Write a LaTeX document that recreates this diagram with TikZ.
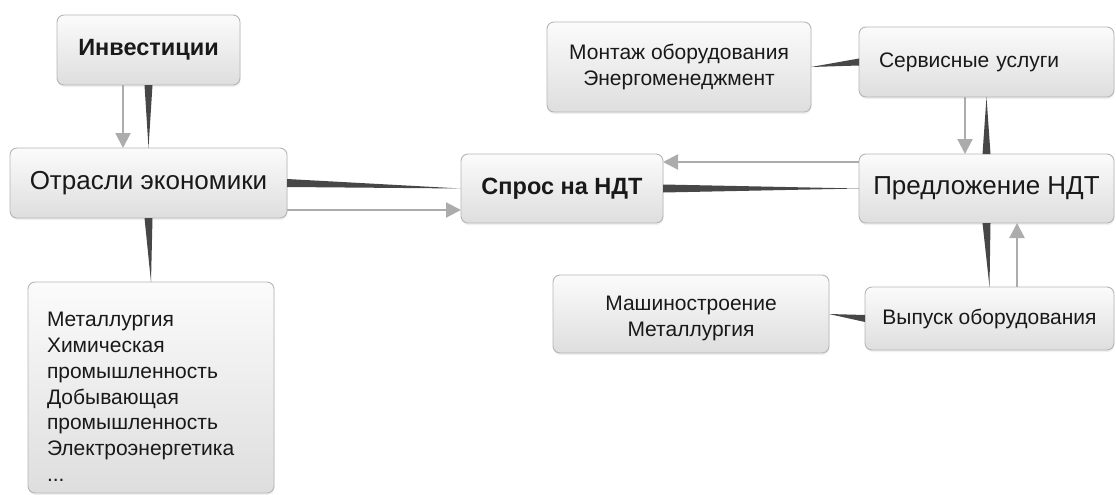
\documentclass[tikz,border=0pt]{standalone}
\usepackage{fontspec}
\setmainfont{Liberation Sans}
\usetikzlibrary{arrows.meta,shadows,calc}

\begin{document}
\begin{tikzpicture}[
    x=1pt, y=-1pt,
    box/.style={draw=gray!58, line width=0.9pt, rounded corners=7pt, top color=gray!3, bottom color=gray!26,
        drop shadow={opacity=0.12, shadow xshift=0.5pt, shadow yshift=-2pt},
        inner sep=0pt, outer sep=0pt, align=center, text=black!90},
    bigtext/.style={font=\fontsize{26}{30}\selectfont},
    boldtext/.style={font=\fontsize{23.5}{28}\selectfont\bfseries},
    smalltext/.style={font=\fontsize{21}{26}\selectfont},
    wedge/.style={fill=black!72},
    flow/.style={draw=gray!65, line width=2.2pt, -{Triangle[length=15pt,width=15pt]}},
]

\useasboundingbox (0,0) rectangle (1116,495);

% === Left column ===
\node[box, boldtext, minimum width=183, minimum height=70] (inv) at (148.5, 50) {Инвестиции};
\node[box, bigtext, minimum width=277, minimum height=70] (otr) at (148.5, 183) {Отрасли экономики};
\node[box, font=\fontsize{21}{25.7}\selectfont, minimum width=246, minimum height=211, text width=208, inner xsep=19pt, align=left]
    (sect) at (151, 387.5) {\rule{0pt}{33pt}Металлургия\\Химическая\\промышленность\\Добывающая\\промышленность\\Электроэнергетика\\...};

% === Demand ===
\node[box, boldtext, minimum width=202, minimum height=69] (spros) at (562, 188.5) {Спрос на НДТ};

% === Right column ===
\node[box, smalltext, minimum width=264, minimum height=90] (mont) at (679, 67)
    {\fontsize{21}{25}\selectfont Монтаж оборудования\\Энергоменеджмент};
\node[box, smalltext, minimum width=255, minimum height=70, text width=215, inner xsep=20pt, align=left]
    (serv) at (986.5, 62) {Сервисные услуги};
\node[box, bigtext, minimum width=255, minimum height=69] (pred) at (986.5, 188.5) {Предложение НДТ};
\node[box, smalltext, minimum width=276, minimum height=78] (mash) at (691, 314)
    {\fontsize{21}{26}\selectfont\rule{0pt}{24pt}Машиностроение\\Металлургия};
\node[box, smalltext, minimum width=249, minimum height=63] (vyp) at (989.5, 318.5) {Выпуск оборудования};

% === Tapered links (thick end at the parent) ===
\fill[wedge] ([xshift=-4pt]inv.south) -- ([xshift=4pt]inv.south) -- (otr.north) -- cycle;
\fill[wedge] ([xshift=-4pt]otr.south) -- ([xshift=4pt]otr.south) -- (sect.north) -- cycle;
\fill[wedge] ([yshift=4pt]otr.east) -- ([yshift=-4pt]otr.east) -- (spros.west) -- cycle;
\fill[wedge] ([yshift=4pt]spros.east) -- ([yshift=-4pt]spros.east) -- (pred.west) -- cycle;
\fill[wedge] ([xshift=-4pt]pred.north) -- ([xshift=4pt]pred.north) -- (serv.south) -- cycle;
\fill[wedge] ([xshift=-4pt]pred.south) -- ([xshift=4pt]pred.south) -- (vyp.north) -- cycle;
\fill[wedge] ([yshift=3.5pt]serv.west) -- ([yshift=-3.5pt]serv.west) -- (mont.east) -- cycle;
\fill[wedge] ([yshift=3.5pt]vyp.west) -- ([yshift=-3.5pt]vyp.west) -- (mash.east) -- cycle;

% === Gray arrows ===
\draw[flow] ([xshift=-25.5pt]inv.south) -- ([xshift=-25.5pt]inv.south |- otr.north);
\draw[flow] ([yshift=-27pt]otr.east) -- ([yshift=-27pt]otr.east -| spros.west);
\draw[flow] ([yshift=26.5pt]pred.west) -- ([yshift=26.5pt]pred.west -| spros.east);
\draw[flow] ([xshift=-21.5pt]serv.south) -- ([xshift=-21.5pt]serv.south |- pred.north);
\draw[flow] ([xshift=27.5pt]vyp.north) -- ([xshift=27.5pt]vyp.north |- pred.south);

\end{tikzpicture}
\end{document}
